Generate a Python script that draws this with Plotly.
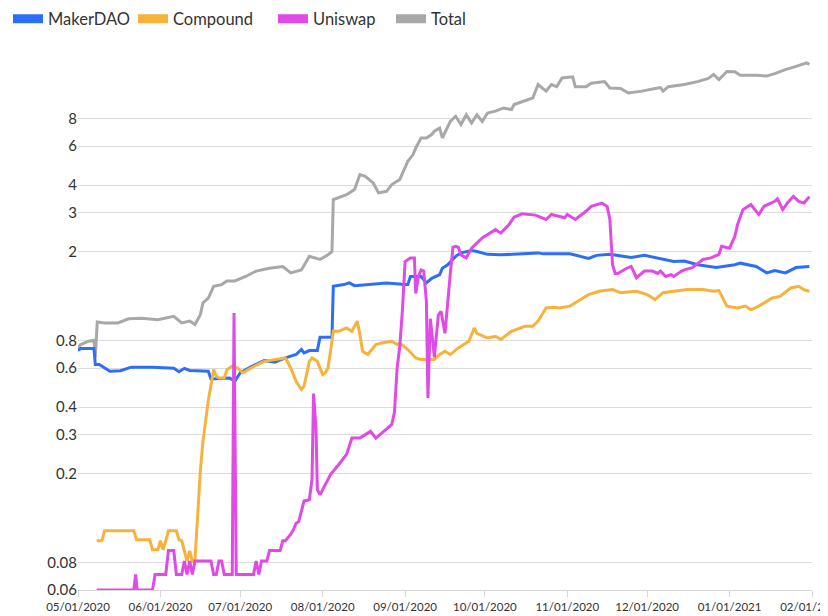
import plotly.graph_objects as go

# %% data (log scale values)

maker_dates = [
    "2020-05-01", "2020-05-02", "2020-05-07", "2020-05-07 12:00", "2020-05-09", "2020-05-11",
    "2020-05-13", "2020-05-17", "2020-05-21", "2020-05-29",
    "2020-06-03", "2020-06-06", "2020-06-08", "2020-06-10", "2020-06-12", "2020-06-19",
    "2020-06-20", "2020-06-27", "2020-06-29",
    "2020-07-01", "2020-07-05", "2020-07-10", "2020-07-14", "2020-07-18", "2020-07-22",
    "2020-07-24", "2020-07-25", "2020-07-27", "2020-07-30", "2020-07-31",
    "2020-08-04 12:00", "2020-08-05", "2020-08-09", "2020-08-11", "2020-08-13", "2020-08-18",
    "2020-08-25",
    "2020-09-01", "2020-09-02", "2020-09-03", "2020-09-07", "2020-09-09", "2020-09-11",
    "2020-09-14", "2020-09-15", "2020-09-17", "2020-09-20", "2020-09-22", "2020-09-26",
    "2020-09-28",
    "2020-10-02", "2020-10-07", "2020-10-13", "2020-10-21", "2020-10-23", "2020-10-31",
    "2020-11-02", "2020-11-09", "2020-11-12", "2020-11-17", "2020-11-25", "2020-11-30",
    "2020-12-06", "2020-12-11", "2020-12-15", "2020-12-20", "2020-12-27",
    "2021-01-03", "2021-01-05", "2021-01-11", "2021-01-15", "2021-01-18", "2021-01-22",
    "2021-01-26", "2021-01-31",
]
maker_values = [
    0.72, 0.734, 0.734, 0.622, 0.622, 0.598,
    0.58, 0.583, 0.605, 0.605,
    0.602, 0.598, 0.577, 0.598, 0.585, 0.58,
    0.535, 0.541, 0.523,
    0.571, 0.607, 0.648, 0.637, 0.666, 0.69,
    0.727, 0.702, 0.719, 0.719, 0.825,
    0.825, 1.40, 1.425, 1.45, 1.41, 1.425,
    1.45,
    1.425, 1.425, 1.55, 1.55, 1.45, 1.52,
    1.58, 1.69, 1.75, 1.91, 1.98, 2.03,
    2.01,
    1.95, 1.94, 1.96, 1.98, 1.96, 1.95,
    1.96, 1.87, 1.93, 1.95, 1.89, 1.93,
    1.87, 1.81, 1.82, 1.75, 1.70,
    1.75, 1.78, 1.72, 1.61, 1.65, 1.61,
    1.70, 1.72,
]

compound_dates = [
    "2020-05-08", "2020-05-10", "2020-05-11", "2020-05-22", "2020-05-23", "2020-05-28",
    "2020-05-29", "2020-05-31",
    "2020-06-01", "2020-06-02", "2020-06-03", "2020-06-04", "2020-06-07", "2020-06-08",
    "2020-06-09", "2020-06-11", "2020-06-12", "2020-06-13", "2020-06-14", "2020-06-15",
    "2020-06-16", "2020-06-17", "2020-06-18", "2020-06-19", "2020-06-20", "2020-06-21",
    "2020-06-22", "2020-06-23", "2020-06-25", "2020-06-26", "2020-06-28", "2020-06-30",
    "2020-07-02", "2020-07-05", "2020-07-10", "2020-07-14", "2020-07-18", "2020-07-20",
    "2020-07-22", "2020-07-24", "2020-07-25", "2020-07-27", "2020-07-28", "2020-07-30",
    "2020-08-01", "2020-08-02", "2020-08-03", "2020-08-04", "2020-08-05", "2020-08-07",
    "2020-08-10", "2020-08-12", "2020-08-14", "2020-08-15", "2020-08-16", "2020-08-18",
    "2020-08-21", "2020-08-23", "2020-08-27", "2020-08-29", "2020-08-30",
    "2020-09-02", "2020-09-05", "2020-09-07", "2020-09-12", "2020-09-14", "2020-09-16",
    "2020-09-18", "2020-09-21", "2020-09-25", "2020-09-27", "2020-09-28",
    "2020-10-02", "2020-10-05", "2020-10-07", "2020-10-11", "2020-10-16", "2020-10-19",
    "2020-10-21", "2020-10-24", "2020-10-27", "2020-10-29",
    "2020-11-02", "2020-11-06", "2020-11-09", "2020-11-13", "2020-11-18", "2020-11-21",
    "2020-11-27",
    "2020-12-01", "2020-12-04", "2020-12-07", "2020-12-16", "2020-12-22", "2020-12-26",
    "2020-12-28", "2020-12-31",
    "2021-01-04", "2021-01-07", "2021-01-09", "2021-01-12", "2021-01-17", "2021-01-20",
    "2021-01-24", "2021-01-27", "2021-01-29", "2021-01-31",
]
compound_values = [
    0.10, 0.10, 0.111, 0.111, 0.101, 0.101,
    0.091, 0.091,
    0.10, 0.091, 0.10, 0.111, 0.111, 0.101,
    0.10, 0.081, 0.09, 0.081, 0.082, 0.137,
    0.206, 0.281, 0.36, 0.43, 0.50, 0.59,
    0.551, 0.541, 0.541, 0.59, 0.611, 0.60,
    0.571, 0.60, 0.643, 0.655, 0.666, 0.60,
    0.523, 0.48, 0.497, 0.643, 0.666, 0.643,
    0.56, 0.571, 0.60, 0.72, 0.88, 0.878,
    0.909, 0.878, 0.976, 0.85, 0.714, 0.69,
    0.765, 0.778, 0.792, 0.765, 0.778,
    0.727, 0.666, 0.655, 0.655, 0.69, 0.714,
    0.69, 0.739, 0.792, 0.909, 0.86,
    0.819, 0.834, 0.806, 0.878, 0.925, 0.925,
    0.976, 1.118, 1.126, 1.118,
    1.14, 1.22, 1.285, 1.33, 1.355, 1.31,
    1.33,
    1.285, 1.22, 1.31, 1.355, 1.355, 1.33,
    1.34, 1.14,
    1.118, 1.14, 1.097, 1.14, 1.24, 1.26,
    1.376, 1.40, 1.35, 1.33,
]

uniswap_dates = [
    "2020-05-08", "2020-05-22", "2020-05-22 16:00", "2020-05-23 06:00", "2020-05-29", "2020-05-30",
    "2020-06-03", "2020-06-04", "2020-06-06", "2020-06-07", "2020-06-09", "2020-06-10",
    "2020-06-11", "2020-06-12", "2020-06-13", "2020-06-14", "2020-06-20", "2020-06-21",
    "2020-06-22", "2020-06-23", "2020-06-24", "2020-06-25", "2020-06-28", "2020-06-28 16:00",
    "2020-06-29 12:00",
    "2020-07-06", "2020-07-07", "2020-07-08", "2020-07-09", "2020-07-11", "2020-07-12",
    "2020-07-16", "2020-07-17", "2020-07-18", "2020-07-20", "2020-07-21", "2020-07-22",
    "2020-07-23", "2020-07-25", "2020-07-27", "2020-07-28", "2020-07-28 14:00",
    "2020-07-29 12:00", "2020-07-30", "2020-07-31",
    "2020-08-02", "2020-08-04", "2020-08-07", "2020-08-10", "2020-08-12", "2020-08-15",
    "2020-08-19", "2020-08-21", "2020-08-24", "2020-08-27", "2020-08-28", "2020-08-29",
    "2020-08-30", "2020-08-31",
    "2020-09-01", "2020-09-03", "2020-09-04 12:00", "2020-09-05", "2020-09-06", "2020-09-07",
    "2020-09-08", "2020-09-09", "2020-09-09 14:00", "2020-09-10 12:00", "2020-09-11",
    "2020-09-12", "2020-09-13 12:00", "2020-09-14 12:00", "2020-09-16", "2020-09-17",
    "2020-09-18", "2020-09-19", "2020-09-20", "2020-09-21", "2020-09-22", "2020-09-24",
    "2020-09-26", "2020-09-30",
    "2020-10-02", "2020-10-05", "2020-10-07", "2020-10-10", "2020-10-12", "2020-10-15",
    "2020-10-20", "2020-10-24", "2020-10-26", "2020-10-31",
    "2020-11-01", "2020-11-04", "2020-11-08", "2020-11-10", "2020-11-14", "2020-11-16",
    "2020-11-17", "2020-11-18", "2020-11-19", "2020-11-20", "2020-11-23", "2020-11-25",
    "2020-11-27", "2020-11-30",
    "2020-12-03", "2020-12-05", "2020-12-06", "2020-12-08", "2020-12-10", "2020-12-11",
    "2020-12-14", "2020-12-15", "2020-12-18", "2020-12-22", "2020-12-25", "2020-12-28",
    "2020-12-29",
    "2021-01-01", "2021-01-03", "2021-01-04", "2021-01-06", "2021-01-09", "2021-01-12",
    "2021-01-14", "2021-01-18", "2021-01-19", "2021-01-21", "2021-01-23", "2021-01-25",
    "2021-01-27", "2021-01-29", "2021-01-31",
]
uniswap_values = [
    0.06, 0.06, 0.0705, 0.06, 0.06, 0.0705,
    0.0705, 0.0903, 0.0903, 0.0705, 0.0705, 0.081,
    0.0705, 0.081, 0.0705, 0.081, 0.081, 0.0705,
    0.0705, 0.081, 0.081, 0.0705, 0.0705, 1.06,
    0.0705,
    0.0705, 0.081, 0.0705, 0.081, 0.081, 0.0903,
    0.0903, 0.10, 0.10, 0.107, 0.112, 0.12,
    0.122, 0.151, 0.153, 0.19, 0.46,
    0.32, 0.17, 0.161,
    0.18, 0.199, 0.22, 0.245, 0.29, 0.29,
    0.311, 0.29, 0.311, 0.334, 0.38, 0.60,
    0.75, 1.10,
    1.81, 1.88, 1.88, 1.30, 1.55, 1.66,
    1.64, 1.2, 0.44, 1.0, 0.88,
    0.67, 1.04, 1.08, 0.86, 1.2,
    1.6, 2.1, 2.12, 2.1, 1.94, 1.88,
    2.08, 2.31,
    2.40, 2.52, 2.43, 2.65, 2.87, 2.97,
    2.93, 2.80, 2.95, 2.85,
    2.95, 2.80, 3.05, 3.21, 3.32, 3.20,
    2.80, 1.75, 1.60, 1.60, 1.68, 1.72,
    1.53, 1.64,
    1.64, 1.60, 1.64, 1.55, 1.58, 1.55,
    1.64, 1.66, 1.70, 1.85, 1.88, 1.95,
    2.12,
    2.08, 2.35, 2.65, 3.10, 3.27, 2.95,
    3.21, 3.38, 3.47, 3.10, 3.35, 3.56,
    3.38, 3.32, 3.55,
]

total_dates = [
    "2020-05-01", "2020-05-02", "2020-05-05", "2020-05-07", "2020-05-07 12:00", "2020-05-08 06:00",
    "2020-05-11", "2020-05-16", "2020-05-20", "2020-05-25", "2020-05-31",
    "2020-06-06", "2020-06-09", "2020-06-12", "2020-06-14", "2020-06-16", "2020-06-17",
    "2020-06-19", "2020-06-21", "2020-06-24", "2020-06-26", "2020-06-29",
    "2020-07-03", "2020-07-07", "2020-07-12", "2020-07-17", "2020-07-20", "2020-07-24",
    "2020-07-27", "2020-07-30", "2020-07-31",
    "2020-08-03", "2020-08-04 12:00", "2020-08-05", "2020-08-07", "2020-08-10", "2020-08-13",
    "2020-08-15", "2020-08-17", "2020-08-20", "2020-08-22", "2020-08-25", "2020-08-27",
    "2020-08-30",
    "2020-09-02", "2020-09-04", "2020-09-05", "2020-09-07", "2020-09-09", "2020-09-11",
    "2020-09-12", "2020-09-14", "2020-09-15", "2020-09-18", "2020-09-20", "2020-09-22",
    "2020-09-24", "2020-09-26", "2020-09-28", "2020-09-30",
    "2020-10-02", "2020-10-05", "2020-10-08", "2020-10-11", "2020-10-12", "2020-10-16",
    "2020-10-19", "2020-10-21", "2020-10-24", "2020-10-26", "2020-10-28", "2020-10-30",
    "2020-11-03", "2020-11-04", "2020-11-08", "2020-11-10", "2020-11-15", "2020-11-17",
    "2020-11-21", "2020-11-24", "2020-11-29",
    "2020-12-04", "2020-12-06", "2020-12-07", "2020-12-09", "2020-12-15", "2020-12-20",
    "2020-12-24", "2020-12-26", "2020-12-28", "2020-12-31",
    "2021-01-03", "2021-01-05", "2021-01-11", "2021-01-15", "2021-01-18", "2021-01-22",
    "2021-01-26", "2021-01-28", "2021-01-30", "2021-01-31",
]
total_values = [
    0.739, 0.765, 0.792, 0.80, 0.67, 0.967,
    0.957, 0.957, 1.00, 1.005, 0.99,
    1.025, 0.957, 0.976, 0.942, 1.044, 1.18,
    1.24, 1.40, 1.425, 1.48, 1.48,
    1.55, 1.64, 1.69, 1.72, 1.61, 1.66,
    1.91, 1.87, 1.85,
    1.94, 2.01, 3.44, 3.50, 3.62, 3.82,
    4.46, 4.38, 4.09, 3.69, 3.75, 4.02,
    4.24,
    5.12, 5.49, 5.88, 6.52, 6.52, 6.76,
    6.99, 7.23, 6.52, 7.75, 8.17, 7.50,
    8.30, 7.62, 8.30, 7.75,
    8.45, 8.61, 8.90, 8.75, 9.22, 9.55,
    9.87, 11.35, 10.6, 11.35, 11.1, 12.15,
    12.3, 11.1, 11.1, 11.5, 11.7, 10.95,
    10.9, 10.4, 10.6,
    10.9, 11.0, 10.6, 11.1, 11.35, 11.7,
    12.1, 12.6, 11.95, 13.0,
    12.95, 12.5, 12.5, 12.4, 12.7, 13.25,
    13.7, 13.96, 14.2, 13.96,
]

y_ticks = [0.06, 0.08, 0.2, 0.3, 0.4, 0.6, 0.8, 2, 3, 4, 6, 8]
x_ticks = ["2020-05-01", "2020-06-01", "2020-07-01", "2020-08-01", "2020-09-01",
           "2020-10-01", "2020-11-01", "2020-12-01", "2021-01-01", "2021-02-01"]

# %% figure
series = [
    ("MakerDAO", maker_dates, maker_values, "#2c6ef5"),
    ("Compound", compound_dates, compound_values, "#f7b23b"),
    ("Uniswap", uniswap_dates, uniswap_values, "#e04ae6"),
    ("Total", total_dates, total_values, "#a8a8a8"),
]
draw_order = ["Total", "MakerDAO", "Compound", "Uniswap"]
# one small legend per series, so each entry sits where the original puts it
legend_ids = ["legend", "legend2", "legend3", "legend4"]
legend_left = [-4, 125, 265, 383]  # px, figure coords

fig = go.Figure()
for name in draw_order:
    _, x, y, color = next(s for s in series if s[0] == name)
    fig.add_trace(
        go.Scatter(x=x, y=y, mode="lines", name=name, legendgroup=name, showlegend=False,
                   line=dict(color=color, width=3), connectgaps=True)
    )
# legend only entries (thick pill-like swatches)
for (name, _, _, color), lid in zip(series, legend_ids):
    fig.add_trace(
        go.Scatter(x=[None], y=[None], mode="lines", name=name, legendgroup=name,
                   legend=lid, line=dict(color=color, width=9))
    )

W, H = 820, 608  # page body adds an 8px offset, so the figure is 8px smaller than the window
legends = {}
for lid, left in zip(legend_ids, legend_left):
    legends[lid] = dict(
        orientation="h", xref="container", yref="container", x=left / W, y=1 - 11 / H,
        xanchor="left", yanchor="middle", font=dict(size=16.5), itemwidth=30,
        bgcolor="rgba(0,0,0,0)",
    )

fig.update_layout(
    width=W,
    height=H,
    margin=dict(l=70, r=16, t=32, b=26, autoexpand=False),
    paper_bgcolor="white",
    plot_bgcolor="white",
    font=dict(family="Lato", color="#333333", size=12),
    xaxis=dict(
        type="date", range=["2020-05-01", "2021-02-01"], tickvals=x_ticks,
        tickformat="%m/%d/%Y", showgrid=False, ticks="outside", ticklen=6,
        tickcolor="#d6d6d6", showline=True, linecolor="#d6d6d6", linewidth=1,
        tickfont=dict(size=11.5), ticklabeloverflow="allow", automargin=False,
    ),
    yaxis=dict(
        type="log", range=[-1.2218, 1.2556], tickvals=y_ticks,
        ticktext=[str(v) for v in y_ticks], showgrid=True, gridcolor="#dcdcdc",
        gridwidth=1, zeroline=False, showline=False, tickfont=dict(size=15),
        automargin=False,
    ),
    **legends,
)

fig.write_html("out.html")
